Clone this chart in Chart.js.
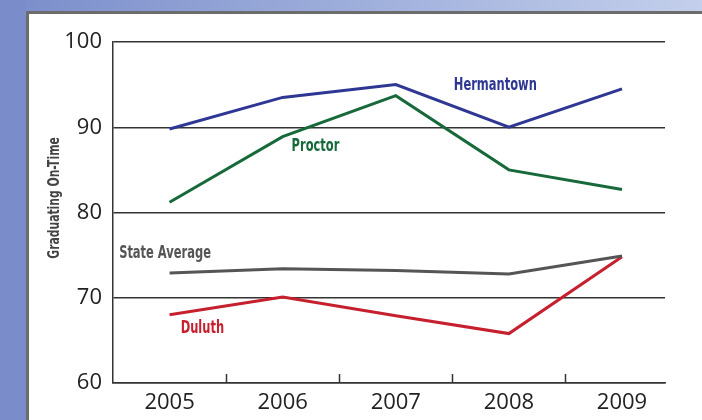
<!DOCTYPE html>
<html>
<head>
<meta charset="utf-8">
<script src="https://cdn.jsdelivr.net/npm/chart.js@4/dist/chart.umd.min.js"></script>
<style>
  html, body { margin: 0; padding: 0; }
  body {
    width: 702px; height: 420px; overflow: hidden; position: relative;
    background: linear-gradient(90deg, #7a8dca 0%, #9eaedb 50%, #c3cfeb 100%);
  }
  .strip { position: absolute; left: 0; top: 0; width: 26px; height: 420px; background: #7a8dca; }
  .panel {
    position: absolute; left: 26px; top: 11px; right: 0; bottom: 0;
    background: #fff; border-left: 3px solid #6c6c6c; border-top: 3px solid #6c6c6c;
  }
  canvas { position: absolute; left: 0; top: 0; }
</style>
</head>
<body>
<div class="strip"></div>
<div class="panel"></div>
<canvas id="myChart" width="702" height="420"></canvas>
<script>
// values
const years = [2005, 2006, 2007, 2008, 2009];
const hermantown = [89.8, 93.5, 95.0, 90.0, 94.5];
const proctor = [81.2, 88.9, 93.7, 85.0, 82.7];
const stateAverage = [72.9, 73.4, 73.2, 72.8, 74.9];
const duluth = [68.0, 70.1, 67.9, 65.8, 74.8];
const yTicks = [60, 70, 80, 90, 100];

const labelFont = '"Liberation Sans Narrow", "DejaVu Sans Condensed", "Roboto", sans-serif';
const numFont = '"Open Sans", sans-serif';
const squeeze = 0.75; // condensed look for the bold labels

function toPoints(values) {
  return values.map((v, i) => { return { x: years[i], y: v } });
}

const seriesLabels = [
  { text: 'Hermantown', color: '#2f3794', x: 2007.88, y: 94.87 },
  { text: 'Proctor', color: '#17693a', x: 2006.29, y: 87.72 },
  { text: 'State Average', color: '#555555', x: 2004.96, y: 75.13 },
  { text: 'Duluth', color: '#c6202f', x: 2005.29, y: 66.33 }
];

const annotations = {
  id: 'annotations',
  afterDatasetsDraw(chart) {
    const ctx = chart.ctx;
    const xs = chart.scales.x;
    const ys = chart.scales.y;
    const area = chart.chartArea;
    ctx.save();
    // short upward ticks between the years
    ctx.strokeStyle = '#333';
    ctx.lineWidth = 1.5;
    for (let i = 0; i < years.length - 1; i++) {
      const px = Math.round(xs.getPixelForValue(years[i] + 0.5)) + 0.5;
      ctx.beginPath();
      ctx.moveTo(px, area.bottom);
      ctx.lineTo(px, area.bottom - 9);
      ctx.stroke();
    }
    // series names
    ctx.font = 'bold 17px ' + labelFont;
    ctx.textAlign = 'center';
    ctx.textBaseline = 'middle';
    seriesLabels.forEach((l) => {
      ctx.save();
      ctx.translate(xs.getPixelForValue(l.x), ys.getPixelForValue(l.y));
      ctx.scale(squeeze, 1);
      ctx.fillStyle = l.color;
      ctx.fillText(l.text, 0, 0);
      ctx.restore();
    });
    // y axis title
    ctx.translate(55, ys.getPixelForValue(81.7));
    ctx.rotate(-Math.PI / 2);
    ctx.scale(squeeze, 1);
    ctx.font = 'bold 16px ' + labelFont;
    ctx.fillStyle = '#444';
    ctx.fillText('Graduating On-Time', 0, 0);
    ctx.restore();
  }
};

function lineSet(label, values, color) {
  return {
    label: label,
    data: toPoints(values),
    borderColor: color,
    backgroundColor: color,
    borderWidth: 3,
    pointRadius: 0,
    tension: 0,
    clip: false
  };
}

new Chart('myChart', {
  type: 'line',
  data: {
    datasets: [
      lineSet('State Average', stateAverage, '#555555'),
      lineSet('Duluth', duluth, '#c6202f'),
      lineSet('Proctor', proctor, '#17693a'),
      lineSet('Hermantown', hermantown, '#2f3794')
    ]
  },
  options: {
    responsive: false,
    animation: false,
    devicePixelRatio: 1,
    layout: { padding: { top: 42, right: 37, left: 0, bottom: 0 } },
    plugins: { legend: { display: false }, tooltip: { enabled: false } },
    scales: {
      x: {
        type: 'linear',
        min: 2004.5,
        max: 2009.38,
        afterBuildTicks: (scale) => { scale.ticks = years.map((y) => { return { value: y } }) },
        afterFit: (scale) => { scale.height = 37 },
        grid: { display: false, drawTicks: false },
        border: { display: true, color: '#333', width: 1.5 },
        ticks: {
          padding: 7,
          color: '#222',
          font: { family: numFont, size: 22 },
          callback: (v) => String(v)
        }
      },
      y: {
        min: 60,
        max: 100,
        afterBuildTicks: (scale) => { scale.ticks = yTicks.map((v) => { return { value: v } }) },
        afterFit: (scale) => { scale.width = 113 },
        grid: { color: '#333', lineWidth: 1.5, drawTicks: false },
        border: { display: true, color: '#333', width: 1.5 },
        ticks: {
          padding: 11,
          color: '#222',
          font: { family: numFont, size: 22 }
        }
      }
    }
  },
  plugins: [annotations]
});
</script>
</body>
</html>
